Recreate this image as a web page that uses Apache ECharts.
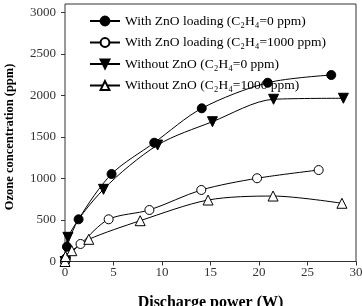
<!DOCTYPE html>
<html>
<head>
<meta charset="utf-8">
<script src="https://cdn.jsdelivr.net/npm/echarts@6/dist/echarts.min.js"></script>
<style>
  html, body { margin: 0; padding: 0; background: #fff; }
  #main { width: 362px; height: 306px; }
</style>
</head>
<body>
<div id="main"></div>
<script>
// data: [power (W), ozone (ppm)]
const seriesNames = [
  'With ZnO loading (C\u2082H\u2084=0 ppm)',
  'With ZnO loading (C\u2082H\u2084=1000 ppm)',
  'Without ZnO (C\u2082H\u2084=0 ppm)',
  'Without ZnO (C\u2082H\u2084=1000 ppm)'
];
const znoZero = [[0, 0], [0.2, 178], [1.4, 508], [4.8, 1053], [9.2, 1430], [14.1, 1844], [20.9, 2152], [27.45, 2245]];
const znoThousand = [[0, 0], [0.1, 40], [1.6, 211], [4.5, 508], [8.7, 620], [14.05, 861], [19.8, 1002], [26.15, 1101]];
const noZnoZero = [[0, 0], [0.3, 291], [3.97, 869], [9.55, 1402], [15.2, 1683], [21.5, 1953], [28.7, 1965]];
const noZnoThousand = [[0, 0], [0.05, 60], [0.7, 130], [2.45, 267], [7.75, 491], [14.75, 740], [21.45, 788], [28.55, 701]];
const xTicks = [0, 5, 10, 15, 20, 25, 30];
const yTicks = [0, 500, 1000, 1500, 2000, 2500, 3000];

const serif = '"Liberation Serif", "DejaVu Serif", serif';

let myChart = echarts.init(document.getElementById('main'));

function mkSeries(name, data, symbol, filled, rotate) {
  return {
    name: name,
    type: 'line',
    data: data,
    smooth: 0.3,
    clip: false,
    symbol: symbol,
    symbolSize: symbol === 'triangle' ? 10 : 9,
    symbolRotate: rotate || 0,
    showAllSymbol: true,
    lineStyle: { color: '#000', width: 1 },
    itemStyle: { color: filled ? '#000' : '#fff', borderColor: '#000', borderWidth: 1 }
  };
}

let option = {
  animation: false,
  backgroundColor: '#fff',
  textStyle: { fontFamily: serif, color: '#000' },
  grid: { left: 65, right: 6, top: 12.3, bottom: 44.5, containLabel: false, outerBoundsMode: 'none' },
  legend: {
    orient: 'vertical',
    left: 84,
    top: 9,
    itemWidth: 30,
    itemHeight: 11,
    itemGap: 7.5,
    textStyle: { fontFamily: serif, fontSize: 13.5, color: '#000' },
    data: seriesNames
  },
  xAxis: {
    type: 'value',
    min: xTicks[0],
    max: xTicks[xTicks.length - 1],
    interval: 5,
    name: 'Discharge power (W)',
    nameLocation: 'middle',
    nameGap: 33,
    nameTextStyle: { fontFamily: serif, fontSize: 16, fontWeight: 'bold', color: '#000' },
    axisLine: { lineStyle: { color: '#333', width: 1 } },
    axisTick: { inside: false, length: 4, lineStyle: { color: '#333' } },
    axisLabel: { fontFamily: serif, fontSize: 13, color: '#333', margin: 5 },
    splitLine: { show: false }
  },
  yAxis: {
    type: 'value',
    min: yTicks[0],
    max: yTicks[yTicks.length - 1],
    interval: 500,
    name: 'Ozone concentration (ppm)',
    nameLocation: 'middle',
    nameGap: 48.5,
    nameTextStyle: { fontFamily: serif, fontSize: 12.5, fontWeight: 'bold', color: '#000' },
    axisLine: { show: false },
    axisTick: { show: true, inside: false, length: 4, lineStyle: { color: '#333' } },
    axisLabel: { fontFamily: serif, fontSize: 13, color: '#333', margin: 9, formatter: v => String(v) },
    splitLine: { show: false }
  },
  graphic: [{
    type: 'rect',
    shape: { x: 65, y: 4, width: 291, height: 257.5 },
    style: { fill: 'none', stroke: '#333', lineWidth: 1 },
    silent: true,
    z: 0
  }],
  series: [
    mkSeries(seriesNames[0], znoZero, 'circle', true),
    mkSeries(seriesNames[1], znoThousand, 'circle', false),
    mkSeries(seriesNames[2], noZnoZero, 'triangle', true, 180),
    mkSeries(seriesNames[3], noZnoThousand, 'triangle', false)
  ]
};
myChart.setOption(option);
</script>
</body>
</html>
